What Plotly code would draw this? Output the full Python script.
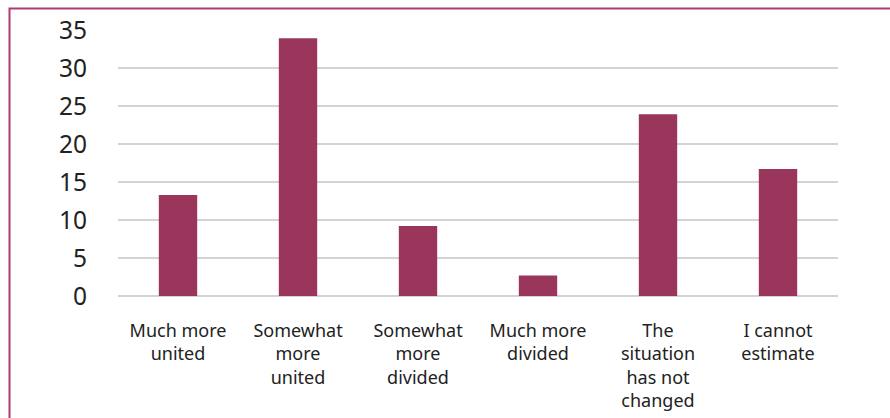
import plotly.graph_objects as go

categories = ["Much more<br>united", "Somewhat<br>more<br>united", "Somewhat<br>more<br>divided",
              "Much more<br>divided", "The<br>situation<br>has not<br>changed", "I cannot<br>estimate"]
values = [13.3, 33.9, 9.2, 2.7, 23.9, 16.7]
y_ticks = [0, 5, 10, 15, 20, 25, 30, 35]

fig = go.Figure(go.Bar(x=categories, y=values, marker=dict(color="#9a365c", line=dict(width=0)),
                       width=0.32))

L, R, T, B = 118, 52, 30, 122
W, H = 890, 418
pw, ph = W - L - R, H - T - B

def px(x):
    return (x - L) / pw

def py(y):
    return (H - B - y) / ph

fig.add_shape(type="rect", xref="paper", yref="paper",
              x0=px(9.5), x1=px(900), y0=py(8.5), y1=py(430),
              line=dict(color="#ad3a74", width=2), fillcolor="rgba(0,0,0,0)", layer="below")

fig.update_layout(
    width=W, height=H, margin=dict(l=L, r=R, t=T, b=B, autoexpand=False),
    paper_bgcolor="white", plot_bgcolor="white",
    font=dict(family="Noto Sans, Open Sans, sans-serif", color="#222222"),
    showlegend=False, bargap=0.68,
    xaxis=dict(showgrid=False, showline=False, ticks="", tickfont=dict(size=18),
               ticklabelstandoff=22, tickangle=0, automargin=False),
    yaxis=dict(range=[0, 35], tickvals=y_ticks, showgrid=True, gridcolor="#d3d3d3", gridwidth=1.5,
               zeroline=True, zerolinecolor="#d3d3d3", zerolinewidth=1.5, showline=False,
               tickfont=dict(size=24.5), ticklabelstandoff=30, ticks="", automargin=False),
)

fig.write_html("out.html")
